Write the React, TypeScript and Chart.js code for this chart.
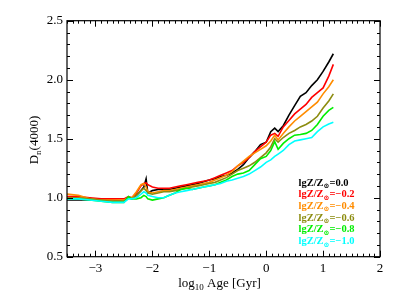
import React, { useEffect, useRef } from "react";
import { Chart, registerables } from "chart.js";
Chart.register(...registerables);

const ages = [-3.5, -3.3, -3.1, -2.9, -2.7, -2.5, -2.42, -2.36, -2.28, -2.2, -2.15, -2.11, -2.08, -2.0, -1.9, -1.8, -1.7, -1.6, -1.5, -1.4, -1.3, -1.2, -1.1, -1.0, -0.9, -0.8, -0.7, -0.6, -0.5, -0.4, -0.3, -0.2, -0.1, 0.0, 0.08, 0.15, 0.21, 0.3, 0.4, 0.5, 0.6, 0.7, 0.8, 0.9, 1.0, 1.1, 1.18];

const dn_z00 = [0.98, 0.98, 0.98, 0.98, 0.98, 0.97, 1.0, 0.99, 1.02, 1.06, 1.09, 1.16, 1.04, 1.06, 1.07, 1.07, 1.07, 1.08, 1.09, 1.1, 1.11, 1.12, 1.135, 1.15, 1.16, 1.18, 1.19, 1.21, 1.24, 1.28, 1.34, 1.39, 1.45, 1.47, 1.56, 1.59, 1.56, 1.61, 1.7, 1.78, 1.86, 1.89, 1.95, 2.0, 2.07, 2.15, 2.22];
const dn_z02 = [1.01, 1.01, 1.0, 0.99, 0.99, 0.99, 1.01, 1.0, 1.04, 1.1, 1.12, 1.125, 1.11, 1.09, 1.08, 1.08, 1.08, 1.09, 1.1, 1.11, 1.12, 1.13, 1.14, 1.15, 1.17, 1.19, 1.21, 1.23, 1.27, 1.3, 1.34, 1.39, 1.43, 1.47, 1.53, 1.545, 1.52, 1.6, 1.655, 1.71, 1.75, 1.79, 1.85, 1.89, 1.93, 2.03, 2.13];
const dn_z04 = [1.03, 1.02, 0.99, 0.98, 0.98, 0.98, 1.0, 1.0, 1.05, 1.11, 1.12, 1.09, 1.05, 1.04, 1.05, 1.06, 1.06, 1.07, 1.08, 1.09, 1.1, 1.11, 1.12, 1.13, 1.15, 1.17, 1.19, 1.22, 1.27, 1.31, 1.35, 1.38, 1.41, 1.44, 1.48, 1.53, 1.49, 1.545, 1.6, 1.65, 1.69, 1.73, 1.77, 1.81, 1.88, 1.94, 2.0];
const dn_z06 = [1.0, 1.0, 0.99, 0.98, 0.97, 0.97, 1.0, 0.99, 1.02, 1.06, 1.08, 1.06, 1.04, 1.03, 1.04, 1.05, 1.05, 1.06, 1.07, 1.08, 1.09, 1.1, 1.11, 1.12, 1.13, 1.15, 1.17, 1.2, 1.23, 1.25, 1.27, 1.3, 1.34, 1.38, 1.43, 1.5, 1.47, 1.51, 1.545, 1.57, 1.6, 1.62, 1.65, 1.69, 1.76, 1.82, 1.88];
const dn_z08 = [0.99, 0.99, 0.98, 0.97, 0.96, 0.96, 1.01, 0.99, 0.99, 1.0, 1.02, 1.01, 0.99, 0.98, 0.99, 1.0, 1.02, 1.04, 1.07, 1.08, 1.07, 1.08, 1.09, 1.1, 1.11, 1.13, 1.15, 1.18, 1.2, 1.21, 1.23, 1.28, 1.33, 1.35, 1.4, 1.475, 1.41, 1.46, 1.5, 1.53, 1.535, 1.545, 1.57, 1.62, 1.69, 1.74, 1.765];
const dn_z10 = [0.99, 0.99, 0.98, 0.97, 0.96, 0.96, 0.99, 0.99, 1.0, 1.03, 1.05, 1.04, 1.02, 1.01, 1.0, 1.0, 1.02, 1.04, 1.05, 1.06, 1.07, 1.08, 1.09, 1.1, 1.11, 1.12, 1.14, 1.15, 1.165, 1.18, 1.2, 1.23, 1.26, 1.3, 1.32, 1.35, 1.37, 1.4, 1.45, 1.48, 1.49, 1.5, 1.51, 1.56, 1.6, 1.625, 1.64];

const seriesValues = [dn_z00, dn_z02, dn_z04, dn_z06, dn_z08, dn_z10];
const metallicityLabels = ["0.0", "\u22120.2", "\u22120.4", "\u22120.6", "\u22120.8", "\u22121.0"];
const seriesColors = ["#000000", "#ff0000", "#ff8c00", "#8c8c10", "#00ee00", "#00ffff"];
const xTickValues = [-3, -2, -1, 0, 1, 2];
const yTickValues = [0.5, 1.0, 1.5, 2.0, 2.5];

const FONT = '"Liberation Serif", "DejaVu Serif", serif';

type Part = { t: string; sub?: boolean };

function partsWidth(ctx: CanvasRenderingContext2D, parts: Part[], size: number, subSize: number, weight = "") {
  let w = 0;
  for (const p of parts) {
    ctx.font = `${weight} ${p.sub ? subSize : size}px ${FONT}`;
    w += ctx.measureText(p.t).width;
  }
  return w;
}

function drawParts(ctx: CanvasRenderingContext2D, parts: Part[], x: number, y: number, size: number, subSize: number, subDrop: number, weight = "") {
  let cx = x;
  for (const p of parts) {
    ctx.font = `${weight} ${p.sub ? subSize : size}px ${FONT}`;
    ctx.fillText(p.t, cx, p.sub ? y + subDrop : y);
    cx += ctx.measureText(p.t).width;
  }
}

const framePlugin = {
  id: "idlFrame",
  afterDraw(chart: any) {
    const { ctx, chartArea: a, scales } = chart;
    const xs = scales.x;
    const ys = scales.y;
    ctx.save();
    ctx.strokeStyle = "#000";
    ctx.lineWidth = 1.2;
    ctx.strokeRect(a.left, a.top, a.right - a.left, a.bottom - a.top);
    ctx.beginPath();
    for (let i = -35; i <= 20; i++) {
      const px = Math.round(xs.getPixelForValue(i / 10)) + 0.5;
      const len = i % 10 === 0 ? 6 : 3;
      ctx.moveTo(px, a.bottom);
      ctx.lineTo(px, a.bottom - len);
      ctx.moveTo(px, a.top);
      ctx.lineTo(px, a.top + len);
    }
    for (let i = 5; i <= 25; i++) {
      const py = Math.round(ys.getPixelForValue(i / 10)) + 0.5;
      const len = i % 5 === 0 ? 6 : 3;
      ctx.moveTo(a.left, py);
      ctx.lineTo(a.left + len, py);
      ctx.moveTo(a.right, py);
      ctx.lineTo(a.right - len, py);
    }
    ctx.lineWidth = 1;
    ctx.stroke();

    ctx.textAlign = "left";
    ctx.textBaseline = "alphabetic";
    // legend
    for (let i = 0; i < metallicityLabels.length; i++) {
      ctx.fillStyle = seriesColors[i];
      drawParts(ctx, [{ t: "lgZ/Z" }, { t: "\u2299", sub: true }, { t: "=" + metallicityLabels[i] }], 298.5, 185.5 + i * 11.7, 10.5, 7, 2.5, "bold");
    }
    // x title
    ctx.fillStyle = "#000";
    const xParts: Part[] = [{ t: "log" }, { t: "10", sub: true }, { t: " Age [Gyr]" }];
    const xw = partsWidth(ctx, xParts, 13, 9);
    drawParts(ctx, xParts, 219.5 - xw / 2, 287, 13, 9, 3);
    // y title
    const yParts: Part[] = [{ t: "D" }, { t: "n", sub: true }, { t: "(4000)" }];
    const yw = partsWidth(ctx, yParts, 13, 9);
    ctx.translate(37.5, 140);
    ctx.rotate(-Math.PI / 2);
    drawParts(ctx, yParts, -yw / 2, 0, 13, 9, 3);
    ctx.restore();
  },
};

export default function App() {
  const ref = useRef<HTMLCanvasElement | null>(null);
  useEffect(() => {
    if (!ref.current) return;
    const datasets = seriesValues.map((vals, i) => ({
      label: "lgZ/Z\u2299=" + metallicityLabels[i],
      data: ages.map((a, k) => ({ x: a, y: vals[k] })),
      borderColor: seriesColors[i],
      backgroundColor: seriesColors[i],
      borderWidth: 1.6,
      pointRadius: 0,
      tension: 0,
      fill: false,
      order: seriesValues.length - i,
    }));
    const chart = new Chart(ref.current, {
      type: "line",
      data: { datasets },
      options: {
        responsive: false,
        animation: false,
        layout: { padding: { top: 20.7, right: 19, left: 0, bottom: 0 } },
        plugins: { legend: { display: false }, tooltip: { enabled: false } },
        scales: {
          x: {
            type: "linear",
            min: -3.5,
            max: 2,
            grid: { display: false, drawTicks: false },
            border: { display: false },
            afterBuildTicks: (s: any) => {
              s.ticks = xTickValues.map((v) => ({ value: v }));
            },
            afterFit: (s: any) => {
              s.height = 42.3;
            },
            ticks: {
              padding: 4,
              color: "#000",
              font: { family: FONT, size: 13 },
              maxRotation: 0,
              autoSkip: false,
              callback: (v: any) => (v < 0 ? "\u2212" + Math.abs(v) : String(v)),
            },
          },
          y: {
            type: "linear",
            min: 0.5,
            max: 2.5,
            grid: { display: false, drawTicks: false },
            border: { display: false },
            afterBuildTicks: (s: any) => {
              s.ticks = yTickValues.map((v) => ({ value: v }));
            },
            afterFit: (s: any) => {
              s.width = 67;
            },
            ticks: {
              padding: 4,
              color: "#000",
              font: { family: FONT, size: 13 },
              autoSkip: false,
              callback: (v: any) => Number(v).toFixed(1),
            },
          },
        },
      },
      plugins: [framePlugin],
    });
    return () => chart.destroy();
  }, []);
  return (
    <div style={{ position: "absolute", left: 0, top: 0, width: 399, height: 299, background: "#fff" }}>
      <canvas ref={ref} width={399} height={299} style={{ width: 399, height: 299, display: "block" }} />
    </div>
  );
}
